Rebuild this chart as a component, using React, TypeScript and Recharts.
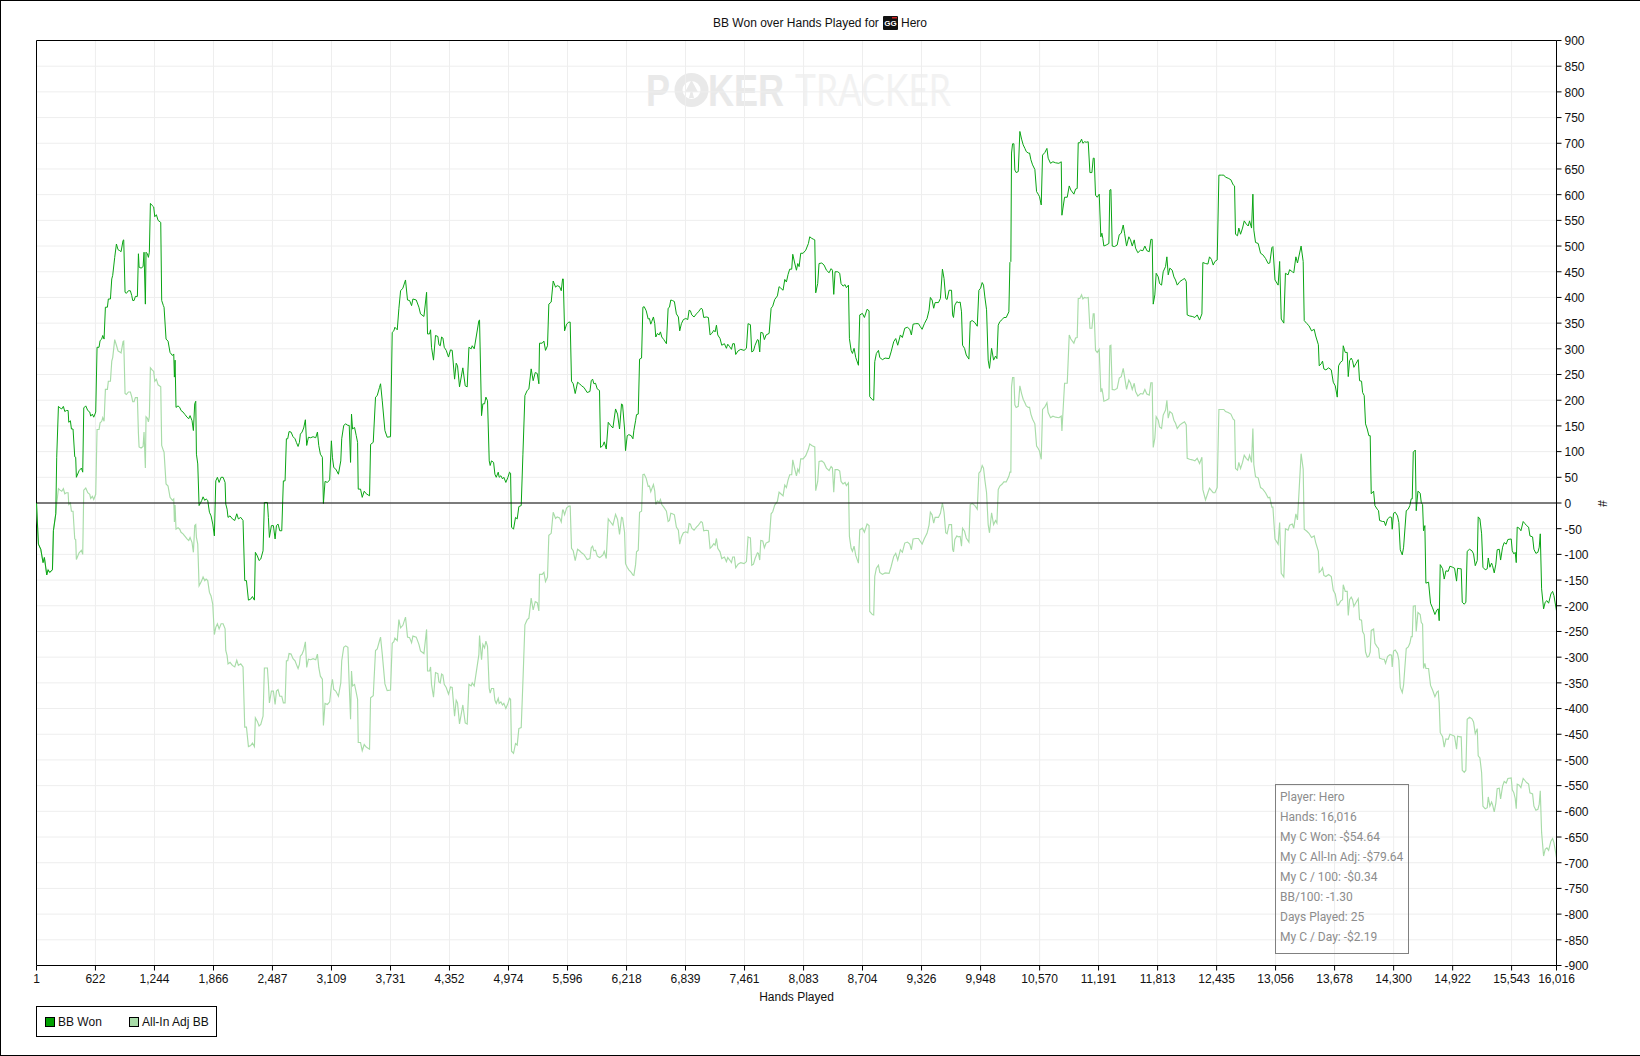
import React from 'react';
import { LineChart, Line, XAxis, YAxis, CartesianGrid, ReferenceLine, Legend } from 'recharts';

const xTicks = [1, 622, 1244, 1866, 2487, 3109, 3731, 4352, 4974, 5596, 6218, 6839, 7461, 8083, 8704, 9326, 9948, 10570, 11191, 11813, 12435, 13056, 13678, 14300, 14922, 15543, 16016];
const yTicks = [900, 850, 800, 750, 700, 650, 600, 550, 500, 450, 400, 350, 300, 250, 200, 150, 100, 50, 0, -50, -100, -150, -200, -250, -300, -350, -400, -450, -500, -550, -600, -650, -700, -750, -800, -850, -900];

const hands = [
  1,21,46,70,84,109,123,140,169,179,
  204,214,232,249,267,284,299,316,334,341,
  358,369,386,404,414,421,450,474,488,499,
  520,541,562,572,590,604,625,639,660,671,
  688,699,713,727,748,758,780,794,804,825,
  843,860,878,892,913,920,934,948,969,990,
  1004,1015,1029,1043,1064,1075,1082,1103,1124,1134,
  1148,1155,1169,1180,1190,1201,1219,1236,1247,1264,
  1282,1310,1320,1338,1345,1366,1387,1408,1433,1447,
  1454,1461,1471,1492,1510,1524,1545,1566,1587,1605,
  1619,1640,1654,1668,1679,1686,1700,1714,1731,1742,
  1756,1774,1788,1805,1823,1840,1858,1875,1890,1907,
  1925,1946,1967,1988,1995,2009,2019,2040,2065,2090,
  2111,2128,2153,2177,2195,2213,2234,2258,2276,2297,
  2307,2328,2346,2364,2388,2402,2434,2444,2455,2476,
  2497,2515,2529,2546,2564,2585,2602,2620,2634,2648,
  2662,2683,2704,2725,2739,2757,2771,2781,2799,2816,
  2834,2848,2866,2890,2915,2943,2961,2975,2992,3013,
  3024,3041,3066,3090,3108,3119,3133,3154,3182,3207,
  3217,3238,3259,3282,3296,3310,3320,3331,3352,3370,
  3384,3391,3415,3433,3454,3475,3510,3521,3549,3573,
  3591,3615,3626,3644,3672,3696,3731,3749,3766,3777,
  3802,3819,3837,3861,3889,3910,3932,3953,3967,4002,
  4030,4047,4083,4111,4121,4142,4153,4163,4184,4205,
  4230,4241,4255,4269,4283,4297,4318,4342,4363,4381,
  4406,4423,4437,4458,4493,4518,4539,4557,4581,4592,
  4613,4662,4669,4690,4704,4722,4736,4753,4771,4781,
  4795,4817,4831,4845,4866,4876,4894,4911,4925,4946,
  4968,4985,4996,5006,5027,5048,5066,5083,5108,5126,
  5147,5171,5189,5213,5234,5256,5277,5294,5301,5329,
  5347,5364,5385,5399,5424,5445,5470,5487,5512,5530,
  5544,5551,5565,5586,5610,5624,5638,5656,5677,5702,
  5723,5744,5768,5786,5803,5832,5846,5860,5874,5891,
  5909,5933,5944,5969,5983,6004,6025,6049,6074,6102,
  6123,6144,6165,6176,6197,6207,6225,6242,6267,6285,
  6295,6313,6323,6341,6355,6376,6390,6404,6425,6446,
  6459,6473,6483,6501,6515,6526,6543,6561,6575,6589,
  6610,6638,6656,6670,6684,6701,6722,6743,6764,6778,
  6796,6817,6842,6863,6877,6891,6905,6929,6954,6975,
  7003,7017,7031,7059,7080,7098,7116,7137,7151,7165,
  7179,7203,7221,7249,7270,7284,7305,7323,7337,7354,
  7368,7393,7421,7456,7481,7498,7509,7523,7537,7555,
  7572,7597,7607,7621,7632,7653,7670,7688,7720,7741,
  7758,7779,7807,7825,7843,7867,7885,7902,7920,7937,
  7958,7969,7987,8008,8022,8036,8053,8078,8106,8134,
  8148,8169,8190,8201,8211,8232,8246,8275,8299,8324,
  8352,8373,8387,8401,8415,8443,8464,8478,8499,8520,
  8534,8556,8566,8584,8598,8615,8633,8661,8675,8703,
  8724,8752,8773,8780,8808,8822,8833,8850,8872,8886,
  8914,8942,8984,9005,9033,9054,9075,9103,9124,9149,
  9177,9202,9219,9237,9265,9293,9314,9332,9356,9384,
  9405,9419,9437,9454,9469,9504,9525,9546,9563,9581,
  9595,9616,9642,9653,9663,9677,9698,9712,9733,9747,
  9758,9779,9797,9825,9839,9860,9888,9913,9930,9948,
  9965,9979,9993,10011,10028,10042,10064,10085,10106,10120,
  10134,10151,10176,10193,10218,10246,10257,10267,10274,10285,
  10299,10309,10323,10345,10362,10380,10397,10415,10429,10450,
  10464,10478,10496,10520,10538,10555,10569,10587,10601,10625,
  10647,10660,10685,10710,10738,10773,10798,10805,10833,10861,
  10882,10899,10931,10949,10966,10977,10994,11012,11026,11043,
  11061,11082,11100,11121,11135,11145,11159,11177,11198,11215,
  11226,11236,11247,11272,11300,11310,11321,11335,11359,11387,
  11409,11430,11451,11465,11486,11510,11528,11546,11567,11581,
  11605,11633,11658,11679,11700,11725,11742,11756,11767,11784,
  11798,11820,11834,11855,11872,11897,11911,11925,11942,11967,
  11985,12002,12020,12048,12072,12097,12115,12125,12150,12178,
  12206,12230,12255,12280,12290,12318,12343,12360,12381,12399,
  12417,12441,12459,12487,12511,12529,12557,12585,12610,12624,
  12634,12655,12669,12687,12708,12726,12747,12768,12782,12803,
  12817,12827,12845,12873,12898,12922,12950,12978,12995,13017,
  13028,13050,13083,13099,13116,13143,13160,13188,13204,13232,
  13248,13270,13287,13325,13347,13358,13386,13408,13435,13463,
  13479,13507,13516,13537,13551,13565,13586,13615,13643,13664,
  13685,13706,13720,13741,13762,13769,13790,13811,13822,13836,
  13853,13867,13881,13902,13927,13941,13962,13973,13990,14004,
  14022,14039,14053,14064,14089,14103,14127,14141,14152,14183,
  14201,14215,14236,14261,14278,14285,14299,14317,14341,14355,
  14370,14391,14405,14433,14454,14471,14485,14496,14507,14528,
  14538,14556,14580,14591,14605,14615,14629,14640,14668,14689,
  14710,14735,14756,14770,14780,14791,14816,14833,14851,14875,
  14893,14921,14942,14963,14974,14998,15012,15023,15044,15061,
  15075,15100,15125,15142,15160,15181,15191,15209,15227,15241,
  15265,15286,15297,15314,15332,15342,15360,15377,15391,15413,
  15427,15448,15465,15486,15504,15539,15550,15567,15581,15592,
  15602,15623,15641,15665,15683,15701,15722,15736,15764,15778,
  15799,15820,15834,15845,15859,15880,15897,15915,15933,15957,
  15975,15989,16016,
];

const bbWon = [
  0,-80,-90,-116,-106,-140,-130,-135,-130,-54,
  -21,89,188,185,183,188,178,180,180,157,
  160,144,144,90,89,50,63,68,60,185,
  189,180,177,169,173,167,177,303,303,316,
  319,326,319,381,381,397,397,436,443,478,
  504,493,491,489,511,512,410,408,413,413,
  404,394,394,402,402,485,459,457,460,488,
  387,488,485,478,488,583,579,576,557,561,
  550,546,394,384,381,319,315,293,287,290,
  245,278,186,189,186,180,177,172,167,164,
  170,160,141,193,198,95,76,-5,1,5,
  12,5,8,5,-18,-25,-41,-64,43,50,
  40,50,50,40,-2,-12,-28,-25,-31,-34,
  -21,-31,-28,-34,-151,-151,-189,-187,-182,-189,
  -96,-103,-112,-109,-93,1,1,-28,-67,-44,
  -44,-70,-44,-41,-54,-54,43,43,125,125,
  139,138,129,125,118,110,118,134,138,146,
  162,112,128,127,129,127,138,112,95,89,
  -1,42,40,45,121,89,69,66,56,82,
  125,151,154,151,151,79,173,144,147,131,
  118,27,27,11,23,18,14,114,118,206,
  209,225,232,199,141,128,129,332,335,342,
  337,378,413,418,434,395,394,384,397,395,
  381,368,363,410,329,329,337,303,278,326,
  324,308,306,323,321,303,297,284,298,297,
  241,272,267,226,263,228,226,303,300,306,
  300,355,356,170,193,193,206,199,82,73,
  82,79,56,50,60,50,53,47,50,40,
  50,60,58,-47,-51,-28,-31,-7,-5,95,
  209,219,222,261,238,254,252,232,311,311,
  315,297,306,387,391,432,420,423,421,413,
  436,436,335,348,352,352,237,232,213,235,
  232,228,225,220,215,217,238,241,232,233,
  222,219,108,112,119,105,157,151,146,183,
  173,144,193,191,144,102,131,133,131,125,
  141,160,172,173,280,282,381,382,374,358,
  359,348,353,362,349,323,330,327,333,323,
  318,310,379,381,395,394,392,368,362,335,
  349,357,359,357,375,374,366,362,368,372,
  379,377,361,362,361,327,330,336,333,346,
  327,320,307,310,301,309,304,299,310,310,
  289,296,299,297,301,349,348,347,294,296,
  307,318,317,294,332,331,318,327,330,379,
  383,396,403,421,418,414,435,430,445,455,
  455,484,469,453,466,460,486,486,492,505,
  518,515,513,512,409,427,466,467,463,453,
  448,456,453,406,450,450,447,427,422,425,
  419,424,320,297,291,301,283,268,366,369,
  361,377,374,207,201,200,275,291,297,283,
  279,282,281,294,314,320,307,327,322,340,
  342,338,327,348,349,349,343,338,349,359,
  375,400,395,379,390,390,398,455,437,398,
  396,414,414,366,361,385,392,390,391,372,
  307,301,288,280,353,355,351,344,414,418,
  429,424,401,376,278,262,301,278,286,281,
  346,353,357,361,361,372,468,470,681,699,
  699,648,643,645,723,708,697,690,684,681,
  681,668,658,649,606,601,596,580,677,682,
  690,671,661,664,662,661,664,560,595,595,
  617,609,601,611,612,701,701,708,700,703,
  702,703,643,643,671,671,599,595,601,518,
  525,515,500,502,505,609,610,500,499,502,
  522,525,541,525,500,518,512,500,512,496,
  487,492,491,500,491,489,513,513,387,405,
  447,440,427,424,450,460,479,444,457,453,
  440,434,424,431,434,437,431,366,364,363,
  361,366,356,368,468,466,465,479,474,463,
  470,473,638,638,638,634,632,629,619,617,
  523,520,535,523,535,549,543,539,549,535,
  601,531,507,505,486,483,476,466,467,497,
  499,434,424,470,358,350,447,444,454,450,
  448,479,467,500,470,355,349,345,335,338,
  325,308,267,271,276,261,259,263,259,235,
  228,206,267,274,277,306,293,293,246,277,
  282,277,264,271,279,238,237,215,209,154,
  144,131,131,18,23,-5,-12,-15,-34,-36,
  -36,-44,-31,-27,-28,-51,-20,-18,-25,-38,
  -91,-101,-86,-15,-12,-5,8,8,99,103,
  -15,23,19,1,-3,-54,-44,-156,-154,-195,
  -204,-217,-208,-206,-229,-120,-128,-148,-132,-133,
  -123,-125,-127,-152,-127,-128,-128,-193,-197,-193,
  -94,-90,-93,-99,-122,-112,-27,-31,-60,-125,
  -130,-128,-107,-125,-117,-122,-136,-119,-91,-90,
  -111,-86,-77,-80,-71,-70,-93,-99,-96,-116,
  -47,-49,-54,-36,-40,-44,-47,-64,-66,-90,
  -98,-96,-86,-60,-167,-206,-193,-190,-195,-177,
  -172,-180,-210,
];

const allInAdjBb = [
  0,-80,-90,-116,-106,-140,-130,-135,-130,-54,
  -21,-1,28,25,23,28,18,20,20,-3,
  0,-16,-16,-70,-71,-110,-97,-92,-100,25,
  29,20,17,9,13,7,17,143,143,156,
  159,166,159,221,221,237,237,276,283,318,
  307,296,294,292,314,315,213,211,216,216,
  207,197,197,205,205,135,109,107,110,138,
  68,168,165,158,168,263,259,256,237,241,
  230,226,112,102,99,37,33,11,5,8,
  -37,-4,-51,-48,-51,-57,-60,-65,-70,-73,
  -67,-77,-96,-44,-42,-67,-80,-161,-155,-151,
  -144,-151,-148,-151,-174,-181,-197,-256,-242,-235,
  -245,-235,-235,-245,-287,-297,-313,-310,-316,-319,
  -306,-316,-313,-319,-436,-436,-474,-472,-467,-474,
  -418,-425,-434,-431,-415,-321,-321,-350,-389,-366,
  -366,-392,-366,-363,-376,-376,-389,-389,-307,-307,
  -293,-294,-303,-307,-314,-322,-314,-298,-294,-286,
  -270,-320,-304,-305,-303,-305,-294,-320,-337,-343,
  -433,-390,-392,-387,-355,-343,-363,-366,-376,-350,
  -307,-281,-278,-281,-354,-421,-327,-356,-353,-369,
  -382,-466,-466,-482,-470,-475,-479,-379,-375,-287,
  -284,-268,-261,-294,-352,-365,-364,-273,-270,-263,
  -268,-227,-243,-238,-222,-261,-262,-272,-259,-261,
  -275,-288,-293,-246,-327,-327,-319,-353,-378,-330,
  -332,-348,-350,-333,-335,-353,-359,-372,-358,-359,
  -415,-384,-389,-430,-393,-428,-430,-353,-356,-350,
  -356,-295,-258,-305,-275,-282,-269,-279,-361,-370,
  -361,-361,-384,-390,-380,-390,-387,-393,-390,-400,
  -390,-380,-382,-483,-487,-468,-471,-439,-437,-348,
  -237,-227,-224,-185,-208,-192,-194,-210,-139,-139,
  -135,-153,-144,-63,-59,-18,-30,-27,-29,-37,
  -14,-14,-23,-10,-6,-6,-88,-93,-112,-90,
  -93,-97,-100,-105,-110,-108,-87,-84,-93,-92,
  -103,-106,-105,-101,-94,-108,-31,-37,-43,-22,
  -32,-61,-28,-29,-57,-118,-125,-130,-135,-140,
  -141,-120,-95,-92,-18,-16,55,56,48,32,
  33,22,27,36,23,-3,4,1,7,-3,
  -8,-16,-36,-34,-20,-21,-23,-47,-53,-80,
  -66,-58,-56,-58,-40,-41,-49,-53,-47,-43,
  -36,-38,-54,-53,-54,-88,-85,-79,-82,-69,
  -88,-95,-108,-105,-114,-106,-111,-116,-105,-105,
  -126,-119,-116,-118,-114,-66,-67,-68,-121,-119,
  -108,-97,-98,-111,-73,-74,-87,-78,-75,-21,
  -17,-4,3,21,18,14,35,30,45,55,
  55,84,69,53,66,60,86,86,92,105,
  115,112,110,109,24,42,81,82,78,68,
  63,71,68,21,65,65,62,42,37,40,
  34,39,-65,-88,-94,-84,-102,-117,-52,-49,
  -57,-41,-44,-211,-217,-218,-143,-127,-121,-135,
  -139,-136,-137,-124,-104,-98,-111,-91,-96,-78,
  -76,-80,-91,-70,-69,-69,-75,-80,-69,-59,
  -43,-18,-23,-39,-28,-28,-20,0,-18,-58,
  -60,-42,-42,-90,-95,-71,-64,-66,-65,-84,
  -49,-55,-68,-76,-3,-1,-5,-12,58,62,
  73,68,45,20,-42,-58,-19,-42,-34,-39,
  26,33,37,41,41,52,60,60,226,244,
  244,191,186,188,228,213,202,195,189,186,
  186,173,163,154,111,106,101,85,182,187,
  195,176,166,169,167,166,169,140,233,233,
  327,319,311,321,322,398,398,405,397,400,
  399,400,340,340,368,368,297,293,299,216,
  223,213,198,200,203,306,307,221,220,223,
  243,246,262,246,221,239,233,221,233,217,
  208,213,212,221,212,210,234,234,108,126,
  168,161,148,145,171,181,200,165,178,174,
  161,155,145,152,155,158,152,87,85,84,
  82,87,77,89,26,6,20,29,24,20,
  20,30,182,182,182,178,176,173,163,161,
  67,64,79,67,79,93,87,83,93,79,
  145,75,51,49,30,27,20,10,11,-8,
  -8,-70,-80,-38,-137,-144,-50,-53,-43,-41,
  -49,-21,-33,96,66,-51,-55,-59,-67,-64,
  -77,-94,-135,-131,-126,-141,-143,-139,-143,-170,
  -177,-199,-198,-191,-188,-159,-172,-172,-219,-188,
  -183,-188,-201,-194,-186,-227,-228,-250,-256,-290,
  -300,-298,-290,-248,-245,-273,-280,-283,-302,-304,
  -304,-312,-299,-295,-296,-319,-288,-286,-293,-306,
  -359,-369,-354,-283,-280,-273,-260,-260,-201,-200,
  -250,-213,-217,-232,-236,-322,-312,-322,-322,-355,
  -364,-377,-368,-366,-389,-447,-455,-475,-459,-460,
  -450,-452,-454,-479,-454,-455,-455,-520,-524,-520,
  -421,-417,-420,-426,-449,-439,-492,-496,-525,-590,
  -595,-593,-572,-590,-582,-587,-601,-584,-556,-555,
  -576,-551,-542,-545,-536,-535,-558,-564,-575,-595,
  -547,-549,-554,-536,-540,-544,-547,-564,-566,-590,
  -598,-596,-586,-560,-641,-687,-674,-671,-676,-658,
  -653,-661,-690,
];

const statLines = ['Player: Hero', 'Hands: 16,016', 'My C Won: -$54.64', 'My C All-In Adj: -$79.64', 'My C / 100: -$0.34', 'BB/100: -1.30', 'Days Played: 25', 'My C / Day: -$2.19'];

const rows = hands.map((hand, i) => ({ hand, won: bbWon[i], adj: allInAdjBb[i] }));

const FONT = '"Liberation Sans", Arial, sans-serif';
const WON_COLOR = '#0aa514';
const ADJ_COLOR = '#a8dca8';

function LegendBox() {
  const swatch = (bg: string) => <span style={{ display: 'inline-block', width: 8, height: 8, background: bg, border: '1px solid #000' }} />;
  return (
    <div style={{ position: 'relative', width: 179, height: 29, border: '1px solid #000', background: '#fff', fontFamily: FONT, fontSize: 12, color: '#111' }}>
      <span style={{ position: 'absolute', left: 8, top: 10, lineHeight: 0 }}>{swatch('#00a000')}</span>
      <span style={{ position: 'absolute', left: 21, top: 8 }}>BB Won</span>
      <span style={{ position: 'absolute', left: 92, top: 10, lineHeight: 0 }}>{swatch('#a8dca8')}</span>
      <span style={{ position: 'absolute', left: 105, top: 8 }}>All-In Adj BB</span>
    </div>
  );
}

export default function App() {
  return (
    <div style={{ position: 'absolute', left: 0, top: 0, width: 1640, height: 1056, overflow: 'hidden', background: '#fff', fontFamily: FONT }}>
      <div style={{ position: 'absolute', left: 0, top: 0, width: 1, height: 1056, background: '#000' }} />
      <div style={{ position: 'absolute', left: 0, top: 0, width: 1640, height: 1, background: '#000' }} />
      <div style={{ position: 'absolute', left: 0, top: 1055, width: 1640, height: 1, background: '#000' }} />

      <svg width={1640} height={130} style={{ position: 'absolute', left: 0, top: 0 }}>
        <g fontFamily='"Liberation Sans", Arial, sans-serif' fontWeight={700} fontSize={44} fill="#e9e9e9">
          <text x={646} y={106} textLength={24} lengthAdjust="spacingAndGlyphs">P</text>
          <circle cx={691.5} cy={90} r={13} fill="none" stroke="#e9e9e9" strokeWidth={8} />
          <path d="M691.5 80 L698 92 L692.5 92 L694 98 L689 98 L690.5 92 L685 92 Z" fill="#e9e9e9" />
          <text x={708} y={106} textLength={76} lengthAdjust="spacingAndGlyphs">KER</text>
        </g>
        <text x={795} y={106} fontFamily="Lato, sans-serif" fontWeight={400} fontSize={44} fill="#f2f2f2" textLength={156} lengthAdjust="spacingAndGlyphs">TRACKER</text>
      </svg>

      <div style={{ position: 'absolute', left: 0, top: 0 }}>
        <LineChart width={1640} height={1056} data={rows} margin={{ top: 40.5, right: 13.5, bottom: 60.5, left: 36.5 }} style={{ fontFamily: FONT }}>
          <CartesianGrid stroke="#eeeeee" strokeWidth={1} />
          <XAxis
            dataKey="hand"
            type="number"
            domain={[1, 16016]}
            ticks={xTicks}
            interval={0}
            height={30}
            tickSize={5}
            tickMargin={4}
            tick={{ fontSize: 12, fill: '#111' }}
            tickFormatter={(v: number) => v.toLocaleString('en-US')}
            stroke="#000"
            label={{ value: 'Hands Played', position: 'insideBottom', offset: -5, fontSize: 12, fill: '#111' }}
          />
          <YAxis
            orientation="right"
            type="number"
            domain={[-900, 900]}
            ticks={yTicks}
            interval={0}
            width={70}
            tickSize={5}
            tickMargin={3}
            tick={{ fontSize: 12, fill: '#111', dy: 0.6 }}
            stroke="#000"
            label={{ value: '#', angle: 90, position: 'insideRight', offset: 24, dy: 4, fontSize: 12, fill: '#111' }}
          />
          <ReferenceLine x={1} stroke="#000" strokeWidth={1} />
          <ReferenceLine y={900} stroke="#000" strokeWidth={1} />
          <Line type="linear" dataKey="adj" name="All-In Adj BB" stroke={ADJ_COLOR} strokeWidth={1.15} dot={false} isAnimationActive={false} />
          <Line type="linear" dataKey="won" name="BB Won" stroke={WON_COLOR} strokeWidth={1} dot={false} isAnimationActive={false} />
          <ReferenceLine y={0} stroke="#000" strokeWidth={1} />
          <Legend layout="horizontal" verticalAlign="middle" align="center" content={() => <LegendBox />} wrapperStyle={{ position: 'absolute', left: 36, top: 1006, width: 181, height: 31, margin: 0 }} />
        </LineChart>
      </div>

      <div style={{ position: 'absolute', left: 713, top: 15.5, fontSize: 12, color: '#111', whiteSpace: 'nowrap', lineHeight: '15px' }}>BB Won over Hands Played for</div>
      <svg width={15} height={14} style={{ position: 'absolute', left: 883, top: 16 }}>
        <rect width={15} height={14} rx={1} fill="#111" />
        <rect x={9} y={1} width={5} height={1.5} fill="#c22" />
        <text x={7.5} y={10} textAnchor="middle" fontFamily='"Liberation Sans", Arial, sans-serif' fontWeight={700} fontSize={8} fill="#fff">GG</text>
      </svg>
      <div style={{ position: 'absolute', left: 901, top: 15.5, fontSize: 12, color: '#111', lineHeight: '15px' }}>Hero</div>

      <div style={{ position: 'absolute', left: 1275, top: 784, width: 132, height: 168, border: '1px solid #808080', fontFamily: 'Roboto, sans-serif', fontSize: 12, color: '#8c8c8c' }}>
        {statLines.map((line, i) => (
          <div key={line} style={{ position: 'absolute', left: 4, top: 2 + i * 20, lineHeight: '20px', whiteSpace: 'nowrap' }}>{line}</div>
        ))}
      </div>
    </div>
  );
}
